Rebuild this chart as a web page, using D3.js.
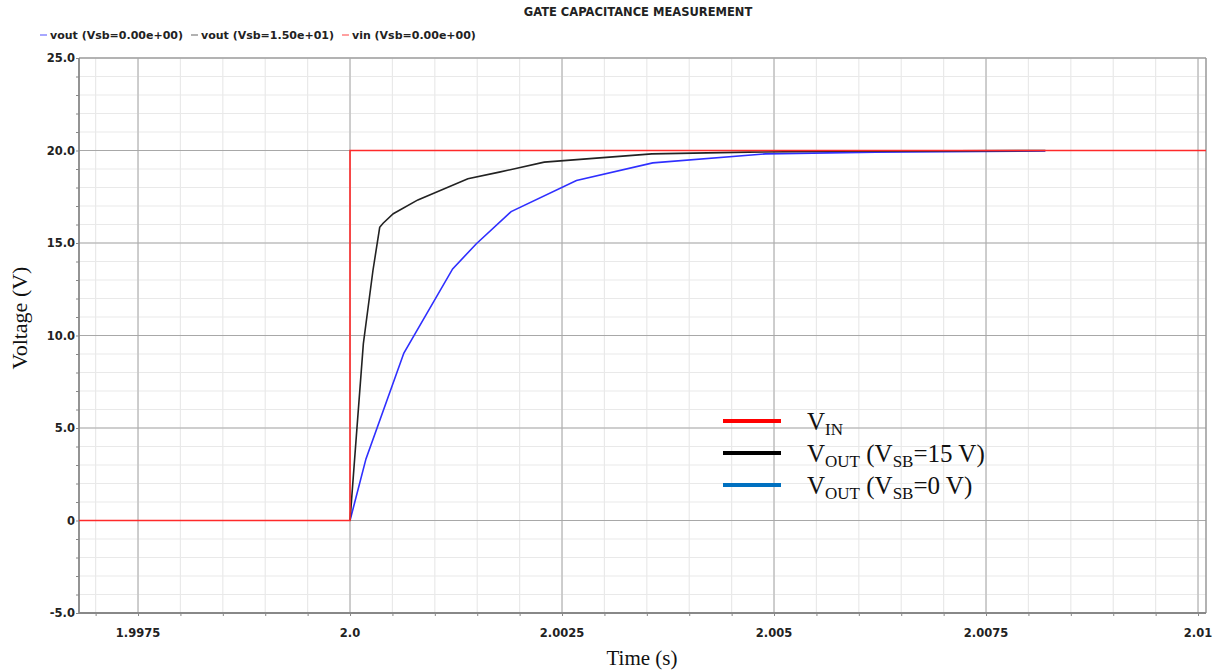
<!DOCTYPE html>
<html>
<head>
<meta charset="utf-8">
<script src="https://cdn.jsdelivr.net/npm/d3@7"></script>
<style>
  html, body { margin: 0; padding: 0; background: #fff; }
  svg { display: block; }
  .tick-label { font-family: 'DejaVu Sans', sans-serif; font-size: 11.5px; font-weight: bold; fill: #222; }
  .serif { font-family: 'Liberation Serif', 'Times New Roman', serif; fill: #111; }
</style>
</head>
<body>
<div id="chart"></div>
<script>
// ---- data ----
const vinT = [1.9968, 2.0, 2.0, 2.0101];
const vinV = [0, 0, 20, 20];

const vout15T = [2.0, 2.00008, 2.000157, 2.00027, 2.00035, 2.00039, 2.00051, 2.0008, 2.00139, 2.00176, 2.00229, 2.00356, 2.0047, 2.00568, 2.0082];
const vout15V = [0, 4.9, 9.55, 13.5, 15.85, 16.07, 16.58, 17.33, 18.47, 18.83, 19.37, 19.82, 19.91, 19.96, 20.0];

const vout0T = [2.0, 2.000188, 2.000635, 2.00121, 2.00149, 2.0019, 2.00267, 2.00357, 2.0049, 2.0062, 2.0082];
const vout0V = [0, 3.33, 9.05, 13.6, 14.96, 16.7, 18.38, 19.33, 19.82, 19.91, 19.97];

const xTicks = [1.9975, 2.0, 2.0025, 2.005, 2.0075, 2.01];
const xTickLabels = ['1.9975', '2.0', '2.0025', '2.005', '2.0075', '2.01'];
const yTicks = [-5, 0, 5, 10, 15, 20, 25];
const yTickLabels = ['-5.0', '0', '5.0', '10.0', '15.0', '20.0', '25.0'];

const topLegend = [
  { name: 'vout (Vsb=0.00e+00)', color: '#8a8aff' },
  { name: 'vout (Vsb=1.50e+01)', color: '#999' },
  { name: 'vin (Vsb=0.00e+00)', color: '#ff8080' },
];
const COLORS = { vin: '#ff2a2a', v15: '#222', v0: '#2f2fff' };

// ---- layout ----
const W = 1217, H = 672;
const L = 79, R = 1206, T = 58, B = 613;

const svg = d3.select('#chart').append('svg').attr('width', W).attr('height', H);

const x = d3.scaleLinear().domain([1.996804, 2.010094]).range([L, R]);
const y = d3.scaleLinear().domain([-5, 25]).range([B, T]);

// grid: minor every 0.0005 s / 1 V, major at labelled ticks
const xMinor = d3.range(1.997, 2.0101, 0.0005);
const yMinor = d3.range(-5, 25.01, 1);

const grid = svg.append('g');
grid.selectAll('line.xm').data(xMinor).enter().append('line')
  .attr('x1', d => x(d)).attr('x2', d => x(d)).attr('y1', T).attr('y2', B)
  .attr('stroke', '#e9e9e9').attr('stroke-width', 1.2);
grid.selectAll('line.ym').data(yMinor).enter().append('line')
  .attr('y1', d => y(d)).attr('y2', d => y(d)).attr('x1', L).attr('x2', R)
  .attr('stroke', '#e9e9e9').attr('stroke-width', 1.2);
grid.selectAll('line.xM').data(xTicks).enter().append('line')
  .attr('x1', d => x(d)).attr('x2', d => x(d)).attr('y1', T).attr('y2', B)
  .attr('stroke', '#c4c4c4').attr('stroke-width', 1.6);
grid.selectAll('line.yM').data(yTicks).enter().append('line')
  .attr('y1', d => y(d)).attr('y2', d => y(d)).attr('x1', L).attr('x2', R)
  .attr('stroke', '#a8a8a8').attr('stroke-width', 1);

// frame
svg.append('line').attr('x1', L).attr('x2', R).attr('y1', T).attr('y2', T).attr('stroke', '#aaa').attr('stroke-width', 1.5);
svg.append('line').attr('x1', R).attr('x2', R).attr('y1', T).attr('y2', B).attr('stroke', '#999').attr('stroke-width', 1.5);

// axes
const xAxis = svg.append('g').attr('transform', `translate(0,${B})`);
xAxis.call(d3.axisBottom(x).tickValues(xMinor).tickSize(3).tickFormat(''));
xAxis.call(g => g.select('.domain').remove());
xAxis.selectAll('line').attr('stroke', '#888');
const yAxis = svg.append('g').attr('transform', `translate(${L},0)`);
yAxis.call(d3.axisLeft(y).tickValues(yMinor).tickSize(3).tickFormat(''));
yAxis.call(g => g.select('.domain').remove());
yAxis.selectAll('line').attr('stroke', '#888');
svg.append('line').attr('x1', L).attr('x2', R).attr('y1', B).attr('y2', B).attr('stroke', '#888').attr('stroke-width', 1.8);
svg.append('line').attr('x1', L).attr('x2', L).attr('y1', T).attr('y2', B).attr('stroke', '#888').attr('stroke-width', 1.8);

svg.selectAll('text.xl').data(xTicks).enter().append('text')
  .attr('class', 'tick-label').attr('text-anchor', 'middle')
  .attr('x', d => x(d)).attr('y', B + 24)
  .text((d, i) => xTickLabels[i]);
svg.selectAll('text.yl').data(yTicks).enter().append('text')
  .attr('class', 'tick-label').attr('text-anchor', 'end')
  .attr('x', L - 4).attr('y', d => y(d) + 4)
  .text((d, i) => yTickLabels[i]);

// series
const clip = svg.append('clipPath').attr('id', 'plot');
clip.append('rect').attr('x', L).attr('y', T).attr('width', R - L).attr('height', B - T);

const line = d3.line().x(d => x(d[0])).y(d => y(d[1]));
const series = svg.append('g').attr('clip-path', 'url(#plot)');
series.append('path').datum(d3.zip(vout0T, vout0V))
  .attr('d', line).attr('fill', 'none').attr('stroke', COLORS.v0).attr('stroke-width', 1.6);
series.append('path').datum(d3.zip(vout15T, vout15V))
  .attr('d', line).attr('fill', 'none').attr('stroke', COLORS.v15).attr('stroke-width', 1.6);
series.append('path').datum(d3.zip(vinT, vinV))
  .attr('d', line).attr('fill', 'none').attr('stroke', COLORS.vin).attr('stroke-width', 1.6);

// title + top legend
svg.append('text').attr('x', 638).attr('y', 16).attr('text-anchor', 'middle')
  .style('font-family', 'DejaVu Sans, sans-serif').style('font-size', '11.5px').style('font-weight', 'bold')
  .attr('fill', '#222').text('GATE CAPACITANCE MEASUREMENT');

let lx = 40;
topLegend.forEach(d => {
  svg.append('line').attr('x1', lx).attr('x2', lx + 7).attr('y1', 35).attr('y2', 35)
    .attr('stroke', d.color).attr('stroke-width', 1.5);
  const t = svg.append('text').attr('x', lx + 10).attr('y', 39)
    .style('font-family', 'DejaVu Sans, sans-serif').style('font-size', '11px').style('font-weight', 'bold')
    .attr('fill', '#222').text(d.name);
  lx += 10 + t.node().getComputedTextLength() + 8;
});

// axis titles
svg.append('text').attr('class', 'serif').attr('text-anchor', 'middle')
  .attr('transform', 'translate(27,318) rotate(-90)').style('font-size', '22px').text('Voltage (V)');
svg.append('text').attr('class', 'serif').attr('text-anchor', 'middle')
  .attr('x', 642).attr('y', 665).style('font-size', '21px').text('Time (s)');

// in-plot legend
const legendRows = [
  { color: '#ff0000', parts: [['V', 0], ['IN', 1]] },
  { color: '#000000', parts: [['V', 0], ['OUT', 1], [' (V', 0], ['SB', 1], ['=15 V)', 0]] },
  { color: '#0070c0', parts: [['V', 0], ['OUT', 1], [' (V', 0], ['SB', 1], ['=0 V)', 0]] },
];
legendRows.forEach((r, i) => {
  const cy = 421 + i * 32;
  svg.append('line').attr('x1', 723).attr('x2', 781).attr('y1', cy).attr('y2', cy)
    .attr('stroke', r.color).attr('stroke-width', 4);
  const t = svg.append('text').attr('class', 'serif').attr('x', 807).attr('y', cy + 9)
    .style('font-size', '25px');
  r.parts.forEach(p => {
    t.append('tspan').text(p[0])
      .style('font-size', p[1] ? '17px' : '25px')
      .attr('baseline-shift', p[1] ? '-5px' : '0');
  });
});
</script>
</body>
</html>
